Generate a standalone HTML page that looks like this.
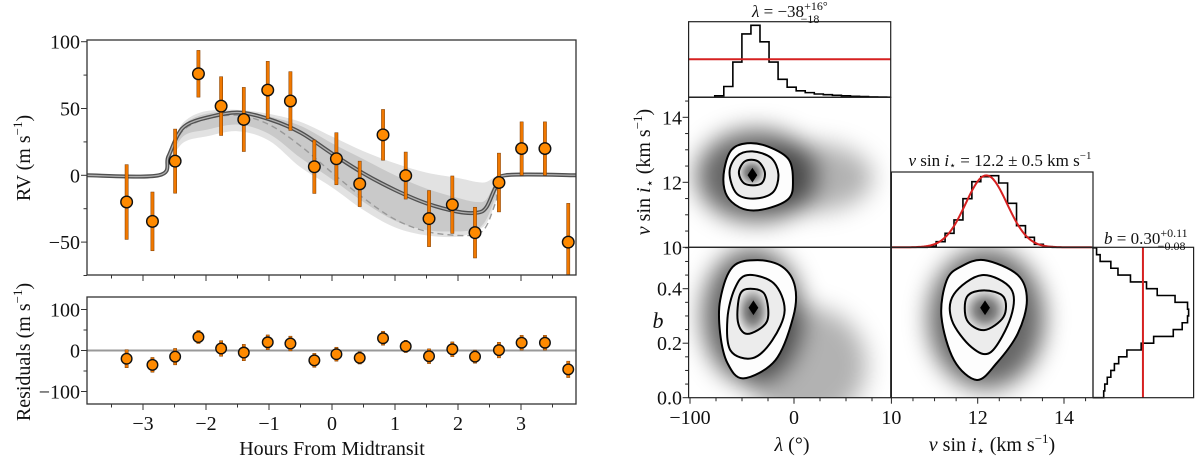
<!DOCTYPE html>
<html><head><meta charset="utf-8"><style>
html,body{margin:0;padding:0;background:#fff;}
svg{display:block;font-family:"Liberation Serif",serif;}
text{fill:#111;}
</style></head><body>
<svg id="fig" xmlns="http://www.w3.org/2000/svg" width="1200" height="458" viewBox="0 0 1200 458">
<defs>
<filter id="blur" x="-50%" y="-50%" width="200%" height="200%"><feGaussianBlur stdDeviation="12"/></filter>
<radialGradient id="coreg"><stop offset="0" stop-color="#555"/><stop offset="0.5" stop-color="#8a8a8a"/><stop offset="1" stop-color="#e0e0e0"/></radialGradient>
<clipPath id="clipTop"><rect x="87" y="40" width="489" height="235"/></clipPath>
<clipPath id="clipRes"><rect x="87" y="297" width="489" height="107"/></clipPath>
<clipPath id="clipP1"><rect x="688.6" y="97.3" width="202.1" height="150"/></clipPath>
<clipPath id="clipP2"><rect x="688.6" y="247.3" width="202.1" height="150.4"/></clipPath>
<clipPath id="clipP3"><rect x="891.4" y="247.3" width="201.6" height="150.4"/></clipPath>
<clipPath id="clipLH"><rect x="688.6" y="21.7" width="202.1" height="76"/></clipPath>
</defs>
<g id="layer"></g>
<text transform="translate(30,158) rotate(-90)" text-anchor="middle" font-size="20">RV (m s<tspan dy="-8" font-size="13">−1</tspan><tspan dy="8">)</tspan></text>
<text transform="translate(30,352) rotate(-90)" text-anchor="middle" font-size="20">Residuals (m s<tspan dy="-8" font-size="13">−1</tspan><tspan dy="8">)</tspan></text>
<text x="332" y="455" text-anchor="middle" font-size="20">Hours From Midtransit</text>
<text transform="translate(650,172) rotate(-90)" text-anchor="middle" font-size="20"><tspan font-style="italic">v</tspan> sin <tspan font-style="italic">i</tspan><tspan font-size="13" dy="4">⋆</tspan><tspan dy="-4"> (km s</tspan><tspan dy="-8" font-size="13">−1</tspan><tspan dy="8">)</tspan></text>
<text x="658" y="328" text-anchor="middle" font-size="22" font-style="italic">b</text>
<text x="792" y="451" text-anchor="middle" font-size="20"><tspan font-style="italic">λ</tspan> (°)</text>
<text x="992" y="451" text-anchor="middle" font-size="20"><tspan font-style="italic">v</tspan> sin <tspan font-style="italic">i</tspan><tspan font-size="13" dy="4">⋆</tspan><tspan dy="-4"> (km s</tspan><tspan dy="-8" font-size="13">−1</tspan><tspan dy="8">)</tspan></text>
<text x="752" y="17" font-size="17"><tspan font-style="italic">λ</tspan> = −38<tspan font-size="12" dy="-7">+16°</tspan><tspan font-size="12" dx="-27" dy="13">−18</tspan></text>
<text x="1000" y="166" text-anchor="middle" font-size="17"><tspan font-style="italic">v</tspan> sin <tspan font-style="italic">i</tspan><tspan font-size="11" dy="3">⋆</tspan><tspan dy="-3"> = 12.2 ± 0.5 km s</tspan><tspan dy="-7" font-size="11">−1</tspan></text>
<text x="1104" y="244" font-size="17"><tspan font-style="italic">b</tspan> = 0.30<tspan font-size="12" dy="-7">+0.11</tspan><tspan font-size="12" dx="-30" dy="13">−0.08</tspan></text>
</svg>
<script>
// ---- RV data ----
const hours = [-3.26,-2.85,-2.49,-2.12,-1.76,-1.40,-1.02,-0.66,-0.28,0.07,0.44,0.81,1.17,1.54,1.91,2.27,2.65,3.01,3.38,3.75];
const rv = [-20,-34.5,10.6,76,51.8,41.8,63.8,55.6,6.4,12.4,-6.4,30.3,-0.2,-32.4,-22,-42.9,-5.4,20,20,-50];
const rvErr = [28,22,24,17.5,22,24,21.5,22,20,19.5,17,19,17.6,21,21.5,19,22,20,20,29];
const resid = [-20,-35,-15,33,5,-5,20,17,-24,-9,-18,30,10,-14,3,-15,1,19,19,-46];
const residErr = [22,18,20,16,19,20,18,18,17,17,15,17,15,18,18,16,19,18,18,20];
// ---- model curves ----
const modelH = [-3.9,-2.75,-2.6,-2.45,-2.3,-2.0,-1.5,-1.0,-0.5,0,0.5,1.0,1.5,2.0,2.3,2.45,2.6,2.75,3.9];
const modelSolid = [0,0,13.8,30,38,43,47,42,32,16.3,1.4,-11,-21,-27.3,-28,-24,-8.7,0,0];
const modelDash = [0,0,13,28,36,42,45,38,22,2,-17,-33,-42,-45,-44,-38,-20,0,0];
const bandLightUp = [0,0,16,33,42,48,49,46,40,29,18,9,2,-2,-5,-5,-1,0,0];
const bandLightLo = [0,0,8,20,26,29,33,26,6,-9,-26,-39,-45,-46,-41,-36,-20,0,0];
const bandDarkUp = [0,0,15,31,40,46,48,44,37,24,12,0,-10,-17,-20,-18,-5,0,0];
const bandDarkLo = [0,0,11,24,31,34,38,31,13,-3,-20,-34,-41,-42,-40,-33,-16,0,0];
const hourTicks = [-3,-2,-1,0,1,2,3];
const rvTicks = [100,50,0,-50];
const resTicks = [100,0,-100];
// ---- corner data ----
const lamStart = -76.2, lamWidth = 8.7;
const lamCounts = [0.02,0.15,0.49,0.88,1.0,0.77,0.49,0.25,0.14,0.09,0.065,0.046,0.037,0.028,0.02,0.014,0.01,0.006,0.004,0.002];
const lamPrior = 0.528;
const vStart = 10.83, vWidth = 0.207;
const vCounts = [3,17,42,82,146,197,212,215,193,132,65,30,9,2];
const gaussMean = 12.2, gaussSigma = 0.48, gaussAmp = 216;
const bStart = 0, bWidth = 0.025;
const bCounts = [30,33,40,50,60,72,95,135,170,225,250,265,268,265,230,180,150,105,70,50,20,10];
const bPrior = 140;
const lamTicks = [-100,0];
const vTicks = [10,12,14];
const vYTicks = [10,12,14];
const bTicks = [0.0,0.2,0.4];
const cLVouter = [[-67,12.4],[-60,13.0],[-45,13.2],[-25,13.1],[-5,12.7],[-1,12.0],[-5,11.5],[-25,11.2],[-45,11.15],[-60,11.4],[-67,11.8]];
const cLVmid = [[-62,12.3],[-55,12.8],[-40,12.95],[-22,12.75],[-15,12.25],[-20,11.7],[-37,11.5],[-55,11.65]];
const cLVin = [[-53,12.3],[-47,12.65],[-35,12.65],[-28,12.3],[-32,11.95],[-47,11.95]];
const cLVcore = [-40,12.22];
const cLBouter = [[-35,0.505],[-11,0.48],[1,0.407],[-0.7,0.297],[-17.8,0.138],[-48.6,0.071],[-64,0.127],[-71,0.236],[-71,0.358],[-59,0.48]];
const cLBmid = [[-45,0.45],[-19.5,0.42],[-9,0.32],[-21,0.21],[-40,0.145],[-61,0.173],[-64,0.29],[-57,0.40]];
const cLBin = [[-42,0.40],[-28,0.378],[-26,0.28],[-45,0.234],[-54,0.28],[-52,0.378]];
const cLBcore = [-39,0.33];
const cVBouter = [[12.15,0.505],[12.93,0.45],[13.14,0.358],[12.93,0.236],[12.44,0.127],[11.98,0.065],[11.45,0.138],[11.16,0.297],[11.28,0.43],[11.6,0.48]];
const cVBmid = [[12.1,0.45],[12.77,0.40],[12.77,0.297],[12.31,0.168],[11.86,0.185],[11.4,0.285],[11.45,0.38]];
const cVBin = [[12.15,0.394],[12.6,0.37],[12.6,0.297],[12.15,0.248],[11.75,0.285],[11.75,0.37]];
const cVBcore = [12.17,0.33];

// ---- scales ----
const xh = h => 332 + 63*h;
const yRV = v => 175.3 - 1.336*v;
const yRes = v => 350.5 - 0.41*v;
const xL = l => 794 + 1.04*l;
const xV = v => 891.4 + 43.15*(v-10);
const yV = v => 247.3 - 32.5*(v-10);
const yB = b => 397.7 - 272.5*b;
const yLH = c => 97.3 - c*(75.6/1.05);
const yVH = c => 247.3 - c*(75.3/226);
const xBH = c => 1093 + c*(100.6/282);

const NS = 'http://www.w3.org/2000/svg';
const layer = document.getElementById('layer');
function mk(tag, attrs, parent){
  const e = document.createElementNS(NS, tag);
  for (const k in attrs) e.setAttribute(k, attrs[k]);
  (parent||layer).appendChild(e);
  return e;
}
function smooth(pts, closed){
  const n = pts.length; let d = 'M'+pts[0][0]+','+pts[0][1];
  const P = i => closed ? pts[(i+n)%n] : pts[Math.max(0,Math.min(n-1,i))];
  const m = closed ? n : n-1;
  for (let i=0;i<m;i++){
    const p0=P(i-1),p1=P(i),p2=P(i+1),p3=P(i+2);
    const c1=[p1[0]+(p2[0]-p0[0])/6, p1[1]+(p2[1]-p0[1])/6];
    const c2=[p2[0]-(p3[0]-p1[0])/6, p2[1]-(p3[1]-p1[1])/6];
    d+=' C'+c1[0]+','+c1[1]+' '+c2[0]+','+c2[1]+' '+p2[0]+','+p2[1];
  }
  return closed ? d+' Z' : d;
}

// ===== RV panel =====
const gTop = mk('g',{'clip-path':'url(#clipTop)'});


function bandPath(up, lo){
  const a = modelH.map((h,i)=>[xh(h), yRV(up[i])]);
  const b = modelH.map((h,i)=>[xh(h), yRV(lo[i])]).reverse();
  return smooth(a,false)+' L'+b[0][0]+','+b[0][1]+' '+smooth(b,false).slice(1)+' Z';
}
const bl = mk('path',{d:bandPath(bandLightUp,bandLightLo),fill:'#e2e2e2'},gTop);


const bd = mk('path',{d:bandPath(bandDarkUp,bandDarkLo),fill:'#c9c9c9'},gTop);


const dl = mk('path',{d:smooth(modelH.map((h,i)=>[xh(h),yRV(modelDash[i])]),false),fill:'none',stroke:'#999','stroke-width':1.4,'stroke-dasharray':'6,4'},gTop);


const sPath = smooth(modelH.map((h,i)=>[xh(h),yRV(modelSolid[i])]),false);
const sl1 = mk('path',{d:sPath,fill:'none',stroke:'#505050','stroke-width':4},gTop);


const sl2 = mk('path',{d:sPath,fill:'none',stroke:'#b0b0b0','stroke-width':1.3},gTop);


hours.forEach((h,i)=>{
  const eb = mk('rect',{x:xh(h)-1.6,y:yRV(rv[i]+rvErr[i]),width:3.2,height:yRV(rv[i]-rvErr[i])-yRV(rv[i]+rvErr[i]),fill:'#f07800',stroke:'#7a3a00','stroke-width':0.5},gTop);
  
  
  const c = mk('circle',{cx:xh(h),cy:yRV(rv[i]),r:5.8,fill:'#ff8a00',stroke:'#111','stroke-width':1.4},gTop);
  
  
});
const fTop = mk('rect',{x:87,y:40,width:489,height:235,fill:'none',stroke:'#333','stroke-width':1.3});



// ===== residual panel =====
const gRes = mk('g',{'clip-path':'url(#clipRes)'});


const zl = mk('line',{x1:87,x2:576,y1:yRes(0),y2:yRes(0),stroke:'#999','stroke-width':2},gRes);


hours.forEach((h,i)=>{
  const eb = mk('rect',{x:xh(h)-1.6,y:yRes(resid[i]+residErr[i]),width:3.2,height:yRes(resid[i]-residErr[i])-yRes(resid[i]+residErr[i]),fill:'#f07800',stroke:'#7a3a00','stroke-width':0.5},gRes);
  
  
  const c = mk('circle',{cx:xh(h),cy:yRes(resid[i]),r:5.3,fill:'#ff8a00',stroke:'#111','stroke-width':1.4},gRes);
  
  
});
const fRes = mk('rect',{x:87,y:297,width:489,height:107,fill:'none',stroke:'#333','stroke-width':1.3});



// left ticks
for (let h=-3.5; h<=3.51; h+=0.5){
  const major = Math.abs(h-Math.round(h))<1e-6;
  [275,404].forEach(yb=>{
    const t = mk('line',{x1:xh(h),x2:xh(h),y1:yb,y2:yb+(major?6:3.5),stroke:'#333','stroke-width':1});
    
    
  });
}
hourTicks.forEach(h=>{
  const t = mk('text',{x:xh(h),y:430,'text-anchor':'middle','font-size':20});
  t.textContent = h<0 ? '−'+Math.abs(h) : String(h);
  
  
});
for (let v=-75; v<=100; v+=25){
  const major = v%50===0;
  const t = mk('line',{x1:87,x2:87-(major?6:3.5),y1:yRV(v),y2:yRV(v),stroke:'#333','stroke-width':1});
  
  
}
rvTicks.forEach(v=>{
  const t = mk('text',{x:80,y:yRV(v)+7,'text-anchor':'end','font-size':20});
  t.textContent = v<0 ? '−'+Math.abs(v) : String(v);
  
  
});
[-100,-50,0,50,100].forEach(v=>{
  const major = v%100===0;
  const t = mk('line',{x1:87,x2:87-(major?6:3.5),y1:yRes(v),y2:yRes(v),stroke:'#333','stroke-width':1});
  
  
});
resTicks.forEach(v=>{
  const t = mk('text',{x:80,y:yRes(v)+7,'text-anchor':'end','font-size':20});
  t.textContent = v<0 ? '−'+Math.abs(v) : String(v);
  
  
});

// ===== corner plot =====
function cloud(clip, ellipses, name){
  const g = mk('g',{'clip-path':'url(#'+clip+')'});
  
  
  const gb = mk('g',{filter:'url(#blur)'},g);
  ellipses.forEach(e=>{
    const el = mk('ellipse',{cx:e[0],cy:e[1],rx:e[2],ry:e[3],fill:'#000',opacity:e[4]},gb);
    
    
  });
  return g;
}
function contours(g, sets, fx, fy, core){
  const fills = ['#fdfdfd','#ececec','url(#coreg)'];
  sets.forEach((pts,i)=>{
    const p = mk('path',{d:smooth(pts.map(q=>[fx(q[0]),fy(q[1])]),true),fill:fills[i],stroke:'#000','stroke-width':2},g);
    
    
  });
  const cx=fx(core[0]), cy=fy(core[1]);
  const d = mk('path',{d:'M'+cx+','+(cy-6)+' L'+(cx+4)+','+cy+' L'+cx+','+(cy+6)+' L'+(cx-4)+','+cy+' Z',fill:'#000',stroke:'#000','stroke-width':1.5},g);
  
  
}
const g1 = cloud('clipP1',[[xL(-36),yV(12.2),60,46,0.6],[xL(18),yV(12.15),60,34,0.3]],'lambda-vsini-panel');
contours(g1,[cLVouter,cLVmid,cLVin],xL,yV,cLVcore);
const g2 = cloud('clipP2',[[xL(-40),yB(0.3),50,68,0.6],[xL(12),yB(0.12),60,58,0.3]],'lambda-b-panel');
contours(g2,[cLBouter,cLBmid,cLBin],xL,yB,cLBcore);
const g3 = cloud('clipP3',[[xV(12.2),yB(0.29),58,70,0.6]],'vsini-b-panel');
contours(g3,[cVBouter,cVBmid,cVBin],xV,yB,cVBcore);

// λ histogram
(function(){
  const gh = mk('g',{'clip-path':'url(#clipLH)'});
  
  
  let pts = [[688.6,yLH(0)],[xL(lamStart),yLH(0)]];
  lamCounts.forEach((c,i)=>{
    const x0=xL(lamStart+i*lamWidth), x1=xL(lamStart+(i+1)*lamWidth);
    pts.push([x0,yLH(c)],[x1,yLH(c)]);
  });
  const p = mk('path',{d:'M'+pts.map(q=>q[0].toFixed(2)+','+q[1].toFixed(2)).join(' L'),fill:'none',stroke:'#000','stroke-width':1.6},gh);
  
  
  const r = mk('line',{x1:688.6,x2:890.7,y1:yLH(lamPrior),y2:yLH(lamPrior),stroke:'#d62020','stroke-width':2},gh);
  
  
})();
// vsini histogram
(function(){
  let pts = [[891.4,yVH(0)],[xV(vStart),yVH(0)]];
  vCounts.forEach((c,i)=>{
    pts.push([xV(vStart+i*vWidth),yVH(c)],[xV(vStart+(i+1)*vWidth),yVH(c)]);
  });
  pts.push([xV(vStart+vCounts.length*vWidth),yVH(0)],[1093,yVH(0)]);
  const p = mk('path',{d:'M'+pts.map(q=>q[0].toFixed(2)+','+q[1].toFixed(2)).join(' L'),fill:'none',stroke:'#000','stroke-width':1.6});
  
  
  let gp=[];
  for (let v=10; v<=14.64; v+=0.04) gp.push([xV(v), yVH(gaussAmp*Math.exp(-0.5*Math.pow((v-gaussMean)/gaussSigma,2)))]);
  const g = mk('path',{d:'M'+gp.map(q=>q[0].toFixed(2)+','+q[1].toFixed(2)).join(' L'),fill:'none',stroke:'#d62020','stroke-width':2});
  
  
})();
// b histogram (rotated)
(function(){
  let pts = [[xBH(0),397.7]];
  bCounts.forEach((c,i)=>{
    pts.push([xBH(c),yB(bStart+i*bWidth)],[xBH(c),yB(bStart+(i+1)*bWidth)]);
  });
  pts.push([xBH(0),yB(bStart+bCounts.length*bWidth)],[xBH(0),247.3]);
  const p = mk('path',{d:'M'+pts.map(q=>q[0].toFixed(2)+','+q[1].toFixed(2)).join(' L'),fill:'none',stroke:'#000','stroke-width':1.6});
  
  
  const r = mk('line',{x1:xBH(bPrior),x2:xBH(bPrior),y1:247.3,y2:397.7,stroke:'#d62020','stroke-width':2});
  
  
})();
// frames
[[688.6,21.7,202.1,75.6,'lambda-hist-frame'],[688.6,97.3,202.1,150,'lambda-vsini-frame'],[688.6,247.3,202.1,150.4,'lambda-b-frame'],[891.4,172,201.6,75.3,'vsini-hist-frame'],[891.4,247.3,201.6,150.4,'vsini-b-frame'],[1093,247.3,100.6,150.4,'b-hist-frame']].forEach(f=>{
  const r = mk('rect',{x:f[0],y:f[1],width:f[2],height:f[3],fill:'none',stroke:'#222','stroke-width':1.2});
  
  
});
// corner ticks
for (let l=-100; l<=90; l+=25){
  const major = lamTicks.includes(l);
  const t = mk('line',{x1:xL(l),x2:xL(l),y1:397.7,y2:397.7+(major?6:3.5),stroke:'#222','stroke-width':1});
  
  
}
lamTicks.forEach(l=>{
  const t = mk('text',{x:xL(l),y:424,'text-anchor':'middle','font-size':20});
  t.textContent = l<0 ? '−'+Math.abs(l) : String(l);
  
  
});
for (let v=10; v<=14.6; v+=0.5){
  const major = Math.abs(v-Math.round(v))<1e-6 && Math.round(v)%2===0;
  const t = mk('line',{x1:xV(v),x2:xV(v),y1:397.7,y2:397.7+(major?6:3.5),stroke:'#222','stroke-width':1});
  
  
  const t2 = mk('line',{x1:688.6,x2:688.6-(major?6:3.5),y1:yV(v),y2:yV(v),stroke:'#222','stroke-width':1});
  
  
}
vTicks.forEach(v=>{
  const t = mk('text',{x:xV(v),y:424,'text-anchor':'middle','font-size':20});
  t.textContent = String(v);
  
  
});
vYTicks.forEach(v=>{
  const t = mk('text',{x:682,y:yV(v)+7,'text-anchor':'end','font-size':20});
  t.textContent = String(v);
  
  
});
for (let b=0; b<=0.551; b+=0.05){
  const major = Math.abs(b*10-Math.round(b*10))<1e-6 && Math.round(b*10)%2===0;
  const t = mk('line',{x1:688.6,x2:688.6-(major?6:3.5),y1:yB(b),y2:yB(b),stroke:'#222','stroke-width':1});
  
  
}
bTicks.forEach(b=>{
  const t = mk('text',{x:682,y:yB(b)+7,'text-anchor':'end','font-size':20});
  t.textContent = b.toFixed(1);
  
  
});
</script>
</body></html>
